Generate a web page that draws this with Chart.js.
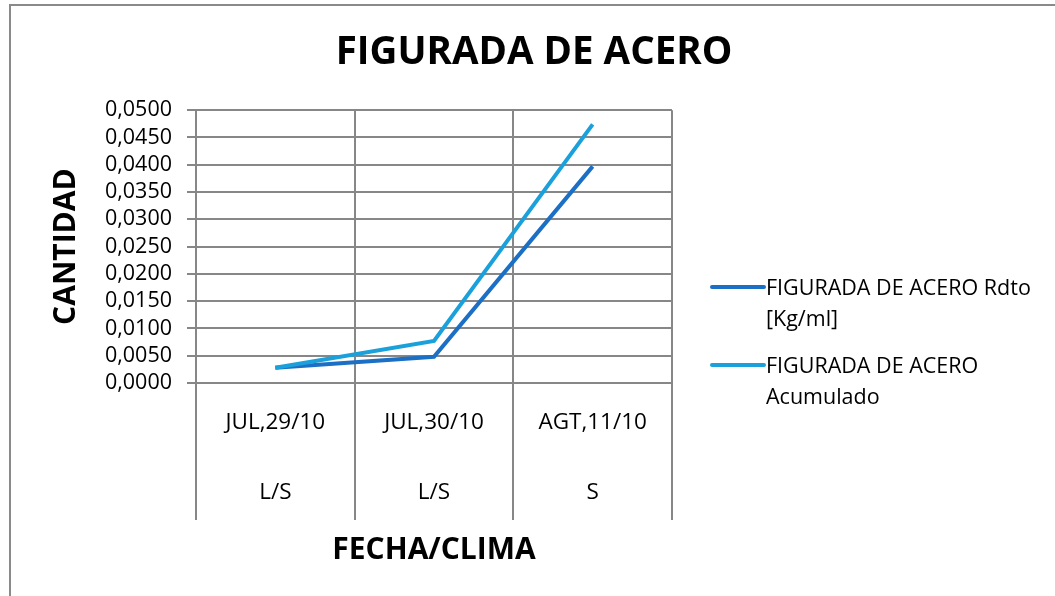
<!DOCTYPE html>
<html>
<head>
<meta charset="utf-8">
<script src="https://cdn.jsdelivr.net/npm/chart.js@4/dist/chart.umd.min.js"></script>
<style>
  html, body { margin: 0; padding: 0; background: #fff; }
  #wrap { position: relative; width: 1055px; height: 596px; overflow: hidden; }
  #frame { position: absolute; left: 9px; top: 4px; width: 1100px; height: 700px;
           border-left: 2px solid #8a8a8a; border-top: 2px solid #8a8a8a; box-sizing: border-box; }
  #legend { position: absolute; left: 710px; top: 271px; font-family: "Open Sans", sans-serif;
            font-size: 21.5px; color: #000; }
  .item { display: flex; align-items: flex-start; margin-bottom: 16px; }
  .swatch { width: 56px; height: 4px; margin-top: 14px; border-radius: 2px; flex: none; }
  .txt { line-height: 31px; width: 300px; white-space: nowrap; }
</style>
</head>
<body>
<div id="wrap">
  <div id="frame"></div>
  <canvas id="chart" width="1055" height="596"></canvas>
  <div id="legend"></div>
</div>
<script>
// data
const fechas = ["JUL,29/10", "JUL,30/10", "AGT,11/10"];
const clima = ["L/S", "L/S", "S"];
const rendimiento = [0.0028, 0.0048, 0.0397];
const acumulado = [0.0028, 0.0077, 0.0474];
const seriesNames = [["FIGURADA DE ACERO Rdto", "[Kg/ml]"], ["FIGURADA DE ACERO", "Acumulado"]];
const yTicks = { min: 0, max: 0.05, step: 0.005 };

const FONT = "'Open Sans', sans-serif";
const GRID = "#878787";

// vertical separators running through the category label area
const separators = {
  id: "separators",
  afterDraw(chart) {
    const x = chart.scales.x;
    const ctx = chart.ctx;
    ctx.save();
    ctx.strokeStyle = GRID;
    ctx.lineWidth = 2;
    for (let i = 0; i <= fechas.length; i++) {
      const px = Math.round(x.getPixelForValue(i - 0.5));
      ctx.beginPath();
      ctx.moveTo(px, x.top);
      ctx.lineTo(px, x.top + 137);
      ctx.stroke();
    }
    ctx.restore();
  }
};

const ctx = document.getElementById("chart").getContext("2d");
const chart = new Chart(ctx, {
  type: "line",
  data: {
    labels: fechas.map((f, i) => [f, clima[i]]),
    datasets: [
      {
        label: seriesNames[0].join(" "),
        data: rendimiento,
        borderColor: "#1b6fc4",
        borderWidth: 4,
        pointRadius: 0,
        tension: 0,
        order: 1
      },
      {
        label: seriesNames[1].join(" "),
        data: acumulado,
        borderColor: "#1aa0db",
        borderWidth: 4,
        pointRadius: 0,
        tension: 0,
        order: 0
      }
    ]
  },
  options: {
    responsive: false,
    animation: false,
    layout: { padding: { left: 48, right: 35, top: 0, bottom: 0 } },
    plugins: {
      legend: { display: false },
      tooltip: { enabled: false },
      title: {
        display: true,
        text: "FIGURADA DE ACERO",
        color: "#000",
        font: { family: FONT, size: 38.5, weight: "bold" },
        padding: { top: 30, bottom: 34 }
      }
    },
    scales: {
      x: {
        offset: true,
        grid: { display: true, offset: true, color: GRID, lineWidth: 2, drawTicks: false },
        border: { display: true, color: GRID, width: 2 },
        ticks: {
          color: "#000",
          padding: 5,
          maxRotation: 0,
          autoSkip: false,
          font: { family: FONT, size: 22.5, lineHeight: 3.11 }
        },
        title: {
          display: true,
          text: "FECHA/CLIMA",
          color: "#000",
          font: { family: FONT, size: 30, weight: "bold" },
          padding: { top: 0, bottom: 28 }
        },
        afterFit(scale) { scale.height = 213; }
      },
      y: {
        min: yTicks.min,
        max: yTicks.max,
        grid: { color: GRID, lineWidth: 2, drawTicks: true, tickLength: 9 },
        border: { display: true, color: GRID, width: 2 },
        ticks: {
          stepSize: yTicks.step,
          autoSkip: false,
          color: "#000",
          padding: 15,
          font: { family: FONT, size: 21.5, lineHeight: 1 },
          callback: v => v.toFixed(4).replace(".", ",")
        },
        title: {
          display: true,
          text: "CANTIDAD",
          color: "#000",
          font: { family: FONT, size: 30, weight: "bold" },
          padding: { top: 0, bottom: 0 }
        },
        afterFit(scale) { scale.width = 148; }
      },
      // empty right-hand axis that reserves room for the legend
      side: {
        type: "linear",
        position: "right",
        grid: { display: false },
        border: { display: false },
        ticks: { display: false },
        afterFit(scale) { scale.width = 348; }
      }
    }
  },
  plugins: [separators]
});

// legend with wrapped labels, built from the chart datasets
const legend = document.getElementById("legend");
chart.data.datasets.forEach((ds, i) => {
  const item = document.createElement("div");
  item.className = "item";
  const sw = document.createElement("div");
  sw.className = "swatch";
  sw.style.background = ds.borderColor;
  const t = document.createElement("div");
  t.className = "txt";
  t.innerHTML = seriesNames[i].join("<br>");
  item.appendChild(sw);
  item.appendChild(t);
  legend.appendChild(item);
});
</script>
</body>
</html>
